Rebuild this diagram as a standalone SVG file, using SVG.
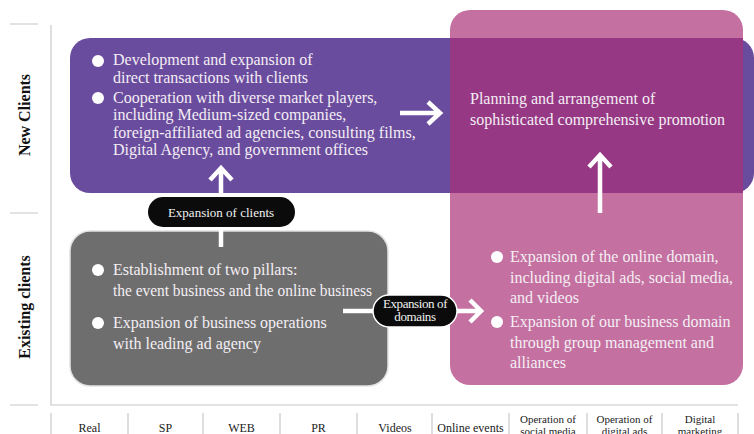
<svg xmlns="http://www.w3.org/2000/svg" width="754" height="434" viewBox="0 0 754 434">
  <style>
    .t { font-family: "Liberation Serif", "Times New Roman", serif; fill: #f4eef4; font-size: 16px; }
    .ax { font-family: "Liberation Serif", "Times New Roman", serif; fill: #222; font-size: 12px; text-anchor: middle; }
    .ax2 { font-family: "Liberation Serif", "Times New Roman", serif; fill: #222; font-size: 11px; text-anchor: middle; }
    .axh { font-family: "Liberation Serif", "Times New Roman", serif; fill: #111; font-size: 16px; font-weight: bold; text-anchor: middle; }
    .pill { font-family: "Liberation Serif", "Times New Roman", serif; fill: #f2f2f2; font-size: 13px; text-anchor: middle; }
    .grid { stroke: #c8c8c8; stroke-width: 1.2; fill: none; }
    .arrow { stroke: #ffffff; stroke-width: 4.5; fill: none; stroke-linejoin: miter; }
    .dot { fill: #ffffff; }
  </style>

  <rect width="754" height="434" fill="#ffffff"/>

  <!-- axes -->
  <g id="axes">
    <path class="grid" d="M51,25 V405 H738"/>
    <path class="grid" d="M10,24 H38 M10,213 H38 M10,405 H38"/>
    <path class="grid" d="M51,413 V434 M128,413 V434 M203,413 V434 M280,413 V434 M357,413 V434 M432,413 V434 M509,413 V434 M587,413 V434 M662,413 V434 M738,413 V434"/>
    <text class="axh" transform="translate(30,115) rotate(-90)">New Clients</text>
    <text class="axh" transform="translate(30,307) rotate(-90)">Existing clients</text>
    <text class="ax" x="89.5" y="432">Real</text>
    <text class="ax" x="165.5" y="432">SP</text>
    <text class="ax" x="241.5" y="432">WEB</text>
    <text class="ax" x="318.5" y="432">PR</text>
    <text class="ax" x="395" y="432">Videos</text>
    <text class="ax" x="470.5" y="432">Online events</text>
    <text class="ax2" x="548" y="423">Operation of</text>
    <text class="ax2" x="548" y="435">social media</text>
    <text class="ax2" x="624.5" y="423">Operation of</text>
    <text class="ax2" x="624.5" y="435">digital ads</text>
    <text class="ax2" x="700" y="423">Digital</text>
    <text class="ax2" x="700" y="435">marketing</text>
  </g>

  <!-- new clients -->
  <g id="new-clients">
    <rect x="70" y="38" width="684" height="155" rx="20" fill="#6a4c9e"/>
  </g>

  <!-- domain expansion -->
  <g id="domain-expansion">
    <rect x="450" y="10" width="293" height="375" rx="20" fill="#c470a0"/>
    <circle class="dot" cx="497" cy="257" r="6"/>
    <circle class="dot" cx="497" cy="322" r="6"/>
    <text class="t" x="510" y="262" font-size="16.5">Expansion of the online domain,</text>
    <text class="t" x="510" y="283" font-size="16.5">including digital ads, social media,</text>
    <text class="t" x="510" y="303" font-size="16.5">and videos</text>
    <text class="t" x="510" y="327" font-size="16.5">Expansion of our business domain</text>
    <text class="t" x="510" y="348" font-size="16.5">through group management and</text>
    <text class="t" x="510" y="368" font-size="16.5">alliances</text>
  </g>

  <!-- comprehensive promotion -->
  <g id="promotion">
    <rect x="450" y="38" width="293" height="155" fill="#963884"/>
    <text class="t" x="470" y="104">Planning and arrangement of</text>
    <text class="t" x="470" y="125">sophisticated comprehensive promotion</text>
  </g>

  <!-- new clients text -->
  <g id="new-clients-text">
    <circle class="dot" cx="98" cy="61" r="6"/>
    <circle class="dot" cx="98" cy="98" r="6"/>
    <text class="t" x="113" y="65">Development and expansion of</text>
    <text class="t" x="113" y="83">direct transactions with clients</text>
    <text class="t" x="113" y="103">Cooperation with diverse market players,</text>
    <text class="t" x="113" y="120">including Medium-sized companies,</text>
    <text class="t" x="113" y="138">foreign-affiliated ad agencies, consulting films,</text>
    <text class="t" x="113" y="155">Digital Agency, and government offices</text>
  </g>

  <!-- existing clients -->
  <g id="existing-clients">
    <rect x="70" y="231" width="318" height="155" rx="20" fill="#6e6e6e" stroke="#e2e2e2" stroke-width="1.5"/>
    <circle class="dot" cx="98" cy="270" r="6"/>
    <circle class="dot" cx="98" cy="323" r="6"/>
    <text class="t" x="113" y="275" font-size="15.5">Establishment of two pillars:</text>
    <text class="t" x="113" y="296" font-size="15.5" textLength="259" lengthAdjust="spacingAndGlyphs">the event business and the online business</text>
    <text class="t" x="113" y="328" font-size="15.5">Expansion of business operations</text>
    <text class="t" x="113" y="349" font-size="15.5">with leading ad agency</text>
  </g>

  <!-- connectors -->
  <g id="connectors">
    <path class="arrow" d="M221,247 V230"/>
    <path class="arrow" d="M221,197 V168 M210,180 L221,168 L232,180"/>
    <path class="arrow" d="M400,113 H440 M428,102 L440,113 L428,124"/>
    <path class="arrow" d="M600,213 V155 M589,167 L600,155 L611,167"/>
    <path class="arrow" d="M343,311 H374"/>
    <path class="arrow" d="M456,311 H481 M470,300 L481,311 L470,322"/>
  </g>

  <!-- labels -->
  <g id="label-clients">
    <rect x="148" y="197" width="147" height="30" rx="15" fill="#0b0b0b"/>
    <text class="pill" x="221" y="217">Expansion of clients</text>
  </g>
  <g id="label-domains">
    <rect x="373" y="295" width="84" height="32" rx="16" fill="#0b0b0b" stroke="#ffffff" stroke-width="1.5"/>
    <text class="pill" x="415" y="307.5" font-size="11" letter-spacing="-0.4">Expansion of</text>
    <text class="pill" x="415" y="321" font-size="11" letter-spacing="-0.4">domains</text>
  </g>
</svg>
